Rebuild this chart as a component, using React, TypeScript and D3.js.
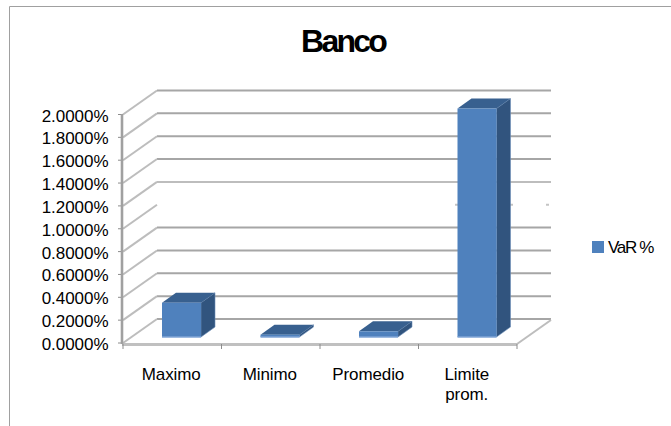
import React from "react";
import * as d3 from "d3";

const categories = ["Maximo", "Minimo", "Promedio", "Limite prom."];
const categoryLines = [["Maximo"], ["Minimo"], ["Promedio"], ["Limite", "prom."]];
const values = [0.3, 0.02, 0.05, 2.0];
const yTicks = [0, 0.2, 0.4, 0.6, 0.8, 1.0, 1.2, 1.4, 1.6, 1.8, 2.0];
const FONT = "'Liberation Sans', Arial, sans-serif";

const W = 671, H = 426;
const x = d3.scaleBand<string>().domain(categories).range([123, 517]);
const y = d3.scaleLinear().domain([0, 2]).range([343, 114.5]);
const DX = 34, DY = -24;       // depth of the plot box
const BX = 14, BY = -10;       // depth of a bar
const INX = 39, BW = 39, BASE = -6;

export default function App() {
  const grid = "#a6a6a6";
  return (
    <svg width={W} height={H} viewBox={`0 0 ${W} ${H}`}
      style={{ position: "absolute", left: 0, top: 0, background: "#fff" }} fontFamily={FONT}>
      <path d={`M9.5,${H} V6.5 H${W}`} fill="none" stroke="#a0a0a0" strokeWidth={1} />
      <text x={343} y={52} textAnchor="middle" fontSize={32} fontWeight={700} letterSpacing={-2.8} fill="#000">Banco</text>

      {yTicks.map((t) => {
        const yy = y(t);
        const missing = t === 1.0;
        return (
          <g key={t}>
            {!missing && (
              <line x1={x.range()[0] + DX} x2={x.range()[1] + DX} y1={yy + DY} y2={yy + DY}
                stroke={t === 1.2 ? "#bdbdbd" : grid} strokeWidth={2} />
            )}
            {missing && [455, 510, 546].map((px) => (
              <line key={px} x1={px} x2={px + 3} y1={yy + DY} y2={yy + DY} stroke="#c4c4c4" strokeWidth={2} />
            ))}
            <line x1={x.range()[0]} y1={yy} x2={x.range()[0] + DX} y2={yy + DY} stroke="#bdbdbd" strokeWidth={2} />
            <line x1={118} x2={122} y1={yy} y2={yy} stroke="#8c8c8c" strokeWidth={1} />
            <text x={108.5} y={yy + 7} textAnchor="end" fontSize={17} letterSpacing={-0.05} fill="#000">
              {d3.format(".4f")(t)}%
            </text>
          </g>
        );
      })}

      {/* floor */}
      <line x1={x.range()[1]} y1={344} x2={x.range()[1] + DX} y2={344 + DY} stroke="#bdbdbd" strokeWidth={2} />
      <line x1={122} x2={x.range()[1]} y1={344.5} y2={344.5} stroke="#c0c0c0" strokeWidth={3} />
      <line x1={122} x2={122} y1={114} y2={344} stroke="#a0a0a0" strokeWidth={2.6} />
      {[...categories.map((c) => x(c)!), x.range()[1]].map((px) => (
        <line key={px} x1={px} x2={px} y1={344} y2={349} stroke="#8c8c8c" strokeWidth={1} />
      ))}

      {/* bars */}
      {categories.map((c, i) => {
        const x0 = x(c)! + INX;
        const x1 = x0 + BW;
        const y1 = y(0) + BASE;
        const y0 = y(values[i]) + BASE;
        return (
          <g key={c}>
            <path d={`M${x1},${y1} L${x1 + BX},${y1 + BY} V${y0 + BY} L${x1},${y0} Z`} fill="#31547e" stroke="#6d8fb8" strokeWidth={0.6} />
            <path d={`M${x0},${y0} L${x0 + BX},${y0 + BY} H${x1 + BX} L${x1},${y0} Z`} fill="#38608f" />
            <rect x={x0} y={y0} width={x1 - x0} height={y1 - y0} fill="#4f81bd" />
            <line x1={x0} x2={x1} y1={y1} y2={y1} stroke="#7fa5d6" strokeWidth={1.5} />
          </g>
        );
      })}

      {categories.map((c, i) => (
        <text key={c} textAnchor="middle" fontSize={17} letterSpacing={-0.1} fill="#000">
          {categoryLines[i].map((l, j) => (
            <tspan key={l} x={x(c)! + x.bandwidth() / 2 - 1} y={380 + j * 20}>{l}</tspan>
          ))}
        </text>
      ))}

      <rect x={592} y={241} width={12} height={12} fill="#4f81bd" />
      <text x={608} y={253} fontSize={17} letterSpacing={-1.3} fill="#000">VaR %</text>
    </svg>
  );
}
